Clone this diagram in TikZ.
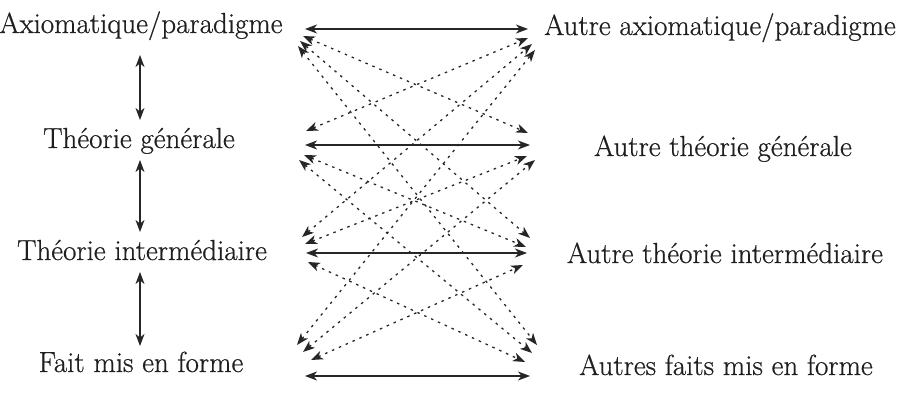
\documentclass[tikz,border=0pt]{standalone}
\usepackage{fontspec}
\newfontfamily\lblfont{Latin Modern Roman}[FakeBold=0.6]
\usetikzlibrary{arrows.meta,calc}
\begin{document}
\begin{tikzpicture}[x=1pt,y=-1pt,
  lbl/.style={inner sep=0pt,anchor=base,font=\lblfont\fontsize{29}{34}\selectfont,text=black!88},
  tip/.style={{Stealth[length=12pt,width=9pt,inset=3.5pt]}-{Stealth[length=12pt,width=9pt,inset=3.5pt]}},
  solidlink/.style={tip,line width=1.2pt,black!85},
  dashlink/.style={tip,line width=1.3pt,black!85,dash pattern=on 2.5pt off 5pt}]
\useasboundingbox (0,0) rectangle (898,406);
% left column
\node[lbl] (L1) at (141,33) {Axiomatique/paradigme};
\node[lbl] (L2) at (139,148) {Théorie générale};
\node[lbl] (L3) at (142,260) {Théorie intermédiaire};
\node[lbl] (L4) at (141,372) {Fait mis en forme};
% right column
\node[lbl] (R1) at (720,35) {Autre axiomatique/paradigme};
\node[lbl] (R2) at (723,156) {Autre théorie générale};
\node[lbl] (R3) at (725,263) {Autre théorie intermédiaire};
\node[lbl] (R4) at (726,375) {Autres faits mis en forme};
% vertical links
\coordinate (v1a) at (140,55);  \coordinate (v1b) at (140,120);
\coordinate (v2a) at (140,160); \coordinate (v2b) at (140,232);
\coordinate (v3a) at (140,272); \coordinate (v3b) at (140,346);
\draw[solidlink] (v1a) -- (v1b);
\draw[solidlink] (v2a) -- (v2b);
\draw[solidlink] (v3a) -- (v3b);
% solid horizontal links
\coordinate (s1a) at (305,29);  \coordinate (s1b) at (528,29);
\coordinate (s2a) at (305,145); \coordinate (s2b) at (530,145);
\coordinate (s3a) at (306,253); \coordinate (s3b) at (527,253);
\coordinate (s4a) at (305,376); \coordinate (s4b) at (530,376);
\draw[solidlink] (s1a) -- (s1b);
\draw[solidlink] (s2a) -- (s2b);
\draw[solidlink] (s3a) -- (s3b);
\draw[solidlink] (s4a) -- (s4b);
% dashed link ends, left
\coordinate (a12) at (303,36);  \coordinate (a13) at (300,41);  \coordinate (a14) at (298,46);
\coordinate (a21) at (306,131); \coordinate (a23) at (304,155); \coordinate (a24) at (299,160);
\coordinate (a31) at (302,237); \coordinate (a32) at (305,244); \coordinate (a34) at (308,262);
\coordinate (a41) at (297,345); \coordinate (a42) at (303,352); \coordinate (a43) at (311,360);
% dashed link ends, right
\coordinate (b12) at (528,133); \coordinate (b13) at (530,238); \coordinate (b14) at (537,345);
\coordinate (b21) at (528,38);  \coordinate (b23) at (526,247); \coordinate (b24) at (532,353);
\coordinate (b31) at (532,44);  \coordinate (b32) at (527,156); \coordinate (b34) at (525,362);
\coordinate (b41) at (535,50);  \coordinate (b42) at (535,160); \coordinate (b43) at (523,265);
\foreach \i/\j in {1/2,1/3,1/4,2/1,2/3,2/4,3/1,3/2,3/4,4/1,4/2,4/3}
  \draw[dashlink] (a\i\j) -- (b\i\j);
\end{tikzpicture}
\end{document}
